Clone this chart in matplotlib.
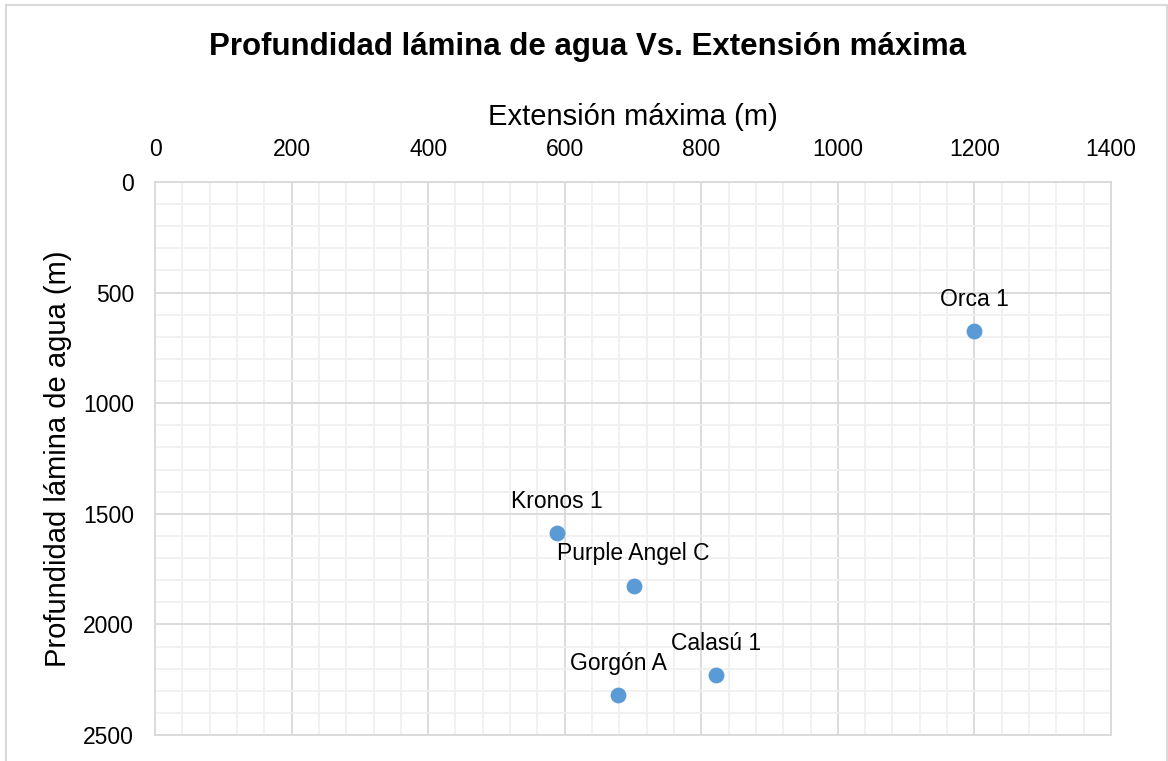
import matplotlib
matplotlib.use("Agg")
import matplotlib.pyplot as plt
from matplotlib.patches import Rectangle
from matplotlib.ticker import MultipleLocator

plt.rcParams['font.family'] = ['Liberation Sans', 'DejaVu Sans']

names = ["Orca 1", "Kronos 1", "Purple Angel C", "Gorgón A", "Calasú 1"]
extension_m = [1200, 589, 701, 678, 821]
depth_m = [675, 1587, 1826, 2319, 2229]

title = "Profundidad lámina de agua Vs. Extensión máxima"
xlabel = "Extensión máxima (m)"
ylabel = "Profundidad lámina de agua (m)"

fig = plt.figure(figsize=(11.68, 7.61), dpi=100)
fig.patches.append(Rectangle((6/1168, -0.05), (1167-6)/1168, 1-5/761+0.05,
                             transform=fig.transFigure, fill=False,
                             edgecolor='#d9d9d9', linewidth=1.5))
ax = fig.add_axes([155/1168, 1-735/761, (1111-155)/1168, (735-182)/761])

ax.scatter(extension_m, depth_m, s=130, color='#5b9bd5', zorder=3, linewidths=0)
for n, x, y in zip(names, extension_m, depth_m):
    ax.annotate(n, (x, y), xytext=(0, 23), textcoords='offset points',
                ha='center', va='center', fontsize=16.5, color='#000000')

ax.set_xlim(0, 1400)
ax.set_ylim(2500, 0)
ax.xaxis.set_major_locator(MultipleLocator(200))
ax.xaxis.set_minor_locator(MultipleLocator(40))
ax.yaxis.set_major_locator(MultipleLocator(500))
ax.yaxis.set_minor_locator(MultipleLocator(100))
ax.xaxis.tick_top()
ax.xaxis.set_label_position('top')
ax.grid(which='major', color='#d9d9d9', linewidth=1.3)
ax.grid(which='minor', color='#f0f0f0', linewidth=1.3)
ax.set_axisbelow(True)
for s in ax.spines.values():
    s.set_color('#d9d9d9')
    s.set_linewidth(1.3)
ax.tick_params(which='both', length=0, labelsize=16.5, pad=15, colors='#000000')
ax.set_xlabel(xlabel, fontsize=21, va='center')
ax.xaxis.set_label_coords(0.5, 1 + (182 - 117) / 553)
ax.set_ylabel(ylabel, fontsize=21, va='center')
ax.yaxis.set_label_coords((58 - 155) / 956, 0.5)
fig.text(588/1168, 1-47/761, title, ha='center', va='center',
         fontsize=22.5, fontweight='bold')

fig.savefig('out.png', dpi=100)
